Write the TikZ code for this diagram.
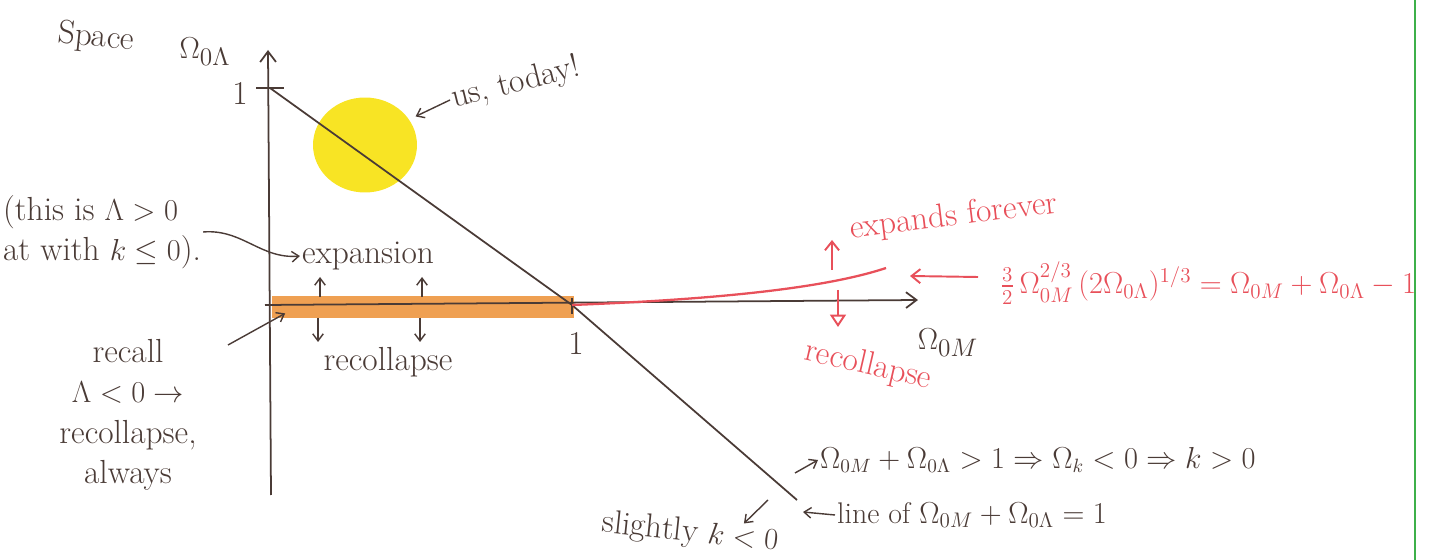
\documentclass[tikz,border=0pt]{standalone}
\usepackage{amsmath}
\usepackage{amssymb}
\usetikzlibrary{positioning,arrows.meta,shapes.geometric,calc}
\definecolor{InkBrown}{HTML}{4A3B36}
\definecolor{PenRed}{HTML}{E8505A}
\definecolor{MarkOrange}{HTML}{EFA052}
\definecolor{MarkYellow}{HTML}{F8E424}
\definecolor{MarginGreen}{HTML}{3DB04A}

\begin{document}
\begin{tikzpicture}[
  x=0.02cm, y=-0.02cm,
  ink/.style={draw=InkBrown, line width=1pt},
  axis/.style={ink, -{Straight Barb[length=6pt,width=9pt]}},
  pointer/.style={draw=InkBrown, line width=0.8pt, -{Straight Barb[length=4pt,width=6pt]}},
  redptr/.style={draw=PenRed, line width=1.1pt, -{Straight Barb[length=5pt,width=8pt]}},
  hand/.style={font=\fontsize{19}{23}\selectfont, text=InkBrown, inner sep=1pt},
  handmath/.style={hand, font=\fontsize{16}{20}\selectfont},
  redhand/.style={hand, text=PenRed},
  sunblob/.style={ellipse, fill=MarkYellow, minimum width=2.08cm, minimum height=1.9cm, inner sep=0pt},
  band/.style={rectangle, fill=MarkOrange, minimum width=6.06cm, minimum height=0.44cm, inner sep=0pt}
]
\useasboundingbox (0,0) rectangle (1448,560);
\draw[MarginGreen, line width=0.6pt] (1415,0) -- (1415,560);

% marker blobs
\node[sunblob] (sun)      at (365,145) {};
\node[band]    (flatband) at (423,307) {};

% axes
\coordinate (ybot)   at (271,495);
\coordinate (ytop)   at (268,50);
\coordinate (xbeg)   at (265,305);
\coordinate (xend)   at (918,300);
\coordinate (lamone) at (270,88);
\coordinate (mone)   at (572,305);
\coordinate (diagend) at (797,500);
\draw[axis] (ybot) -- (ytop);
\draw[axis] (xbeg) -- (xend);
\draw[ink] (256,88) -- (284,88);
\draw[ink] (572,298) -- (572,314);
\draw[ink] (lamone) -- (mone) -- (diagend);

\node[hand] (oneL)   at (240,93)  {1};
\node[hand] (oneM)   at (576,343) {1};
\node[hand] (omL)    at (205,52)  {$\Omega_{0\Lambda}$};
\node[hand] (omM)    at (948,343) {$\Omega_{0M}$};
\node[hand, rotate=-6] (space) at (96,38) {Space};

% us, today
\node[hand, rotate=14, anchor=west] (ustoday) at (450,100) {us, today!};
\draw[pointer, shorten >=4pt] (ustoday.west) -- (sun.30);

% flat band
\node[hand] (expansion)  at (368,256) {expansion};
\node[hand] (recollapse) at (388,362) {recollapse};
\draw[pointer] (320,297) -- (320,277);
\draw[pointer] (422,297) -- (422,277);
\draw[pointer] (318,318) -- (318,342);
\draw[pointer] (420,318) -- (420,342);

\node[hand, align=left] (thisis) at (102,232) {(this is $\Lambda>0$\\ at with $k\le 0$).};
\draw[pointer] (thisis.east) to[out=5, in=185] (expansion.west);

\node[hand, align=center] (recall) at (128,415) {recall\\ $\Lambda<0\rightarrow$\\ recollapse,\\ always};
\coordinate (recalltail) at (228,345);
\draw[pointer] (recalltail) -- ([shift={(14,-5)}]flatband.south west);

% red boundary
\coordinate (curveend) at (886,268);
\draw[PenRed, line width=1.3pt] (mone) .. controls (700,300) and (820,290) .. (curveend);
\node[redhand, rotate=7, anchor=west] (forever) at (848,230) {expands forever};
\draw[redptr] (832,270) -- (832,240);
\node[redhand, rotate=-13] (redcollapse) at (868,366) {recollapse};
\draw[draw=PenRed, line width=1.1pt, -{Triangle[open,length=7pt,width=9pt]}] (838,290) -- (838,327);
\node[redhand, font=\fontsize{18}{21}\selectfont, anchor=west] (boundary) at (998,283)
  {$\frac32\,\Omega_{0M}^{2/3}\,(2\Omega_{0\Lambda})^{1/3}=\Omega_{0M}+\Omega_{0\Lambda}-1$};
\coordinate (redtip) at (910,276);
\draw[redptr] (boundary.west) ++(-20,-6) coordinate (redtail) (redtail) -- (redtip);

% below the line
\node[handmath, anchor=west] (closed) at (818,460) {$\Omega_{0M}+\Omega_{0\Lambda}>1\Rightarrow\Omega_k<0\Rightarrow k>0$};
\coordinate (closedtail) at (795,473);
\draw[pointer] (closedtail) -- (closed.west);
\node[handmath, font=\fontsize{17}{20}\selectfont, anchor=west] (flatline) at (835,515) {line of $\Omega_{0M}+\Omega_{0\Lambda}=1$};
\coordinate (flattip) at (803,512);
\draw[pointer] (flatline.west) -- (flattip);
\node[hand, rotate=-6] (slightly) at (690,533) {slightly $k<0$};
\coordinate (opentail) at (768,500);
\draw[pointer] (opentail) -- ([shift={(-38,-2)}]slightly.north east);
\end{tikzpicture}
\end{document}
